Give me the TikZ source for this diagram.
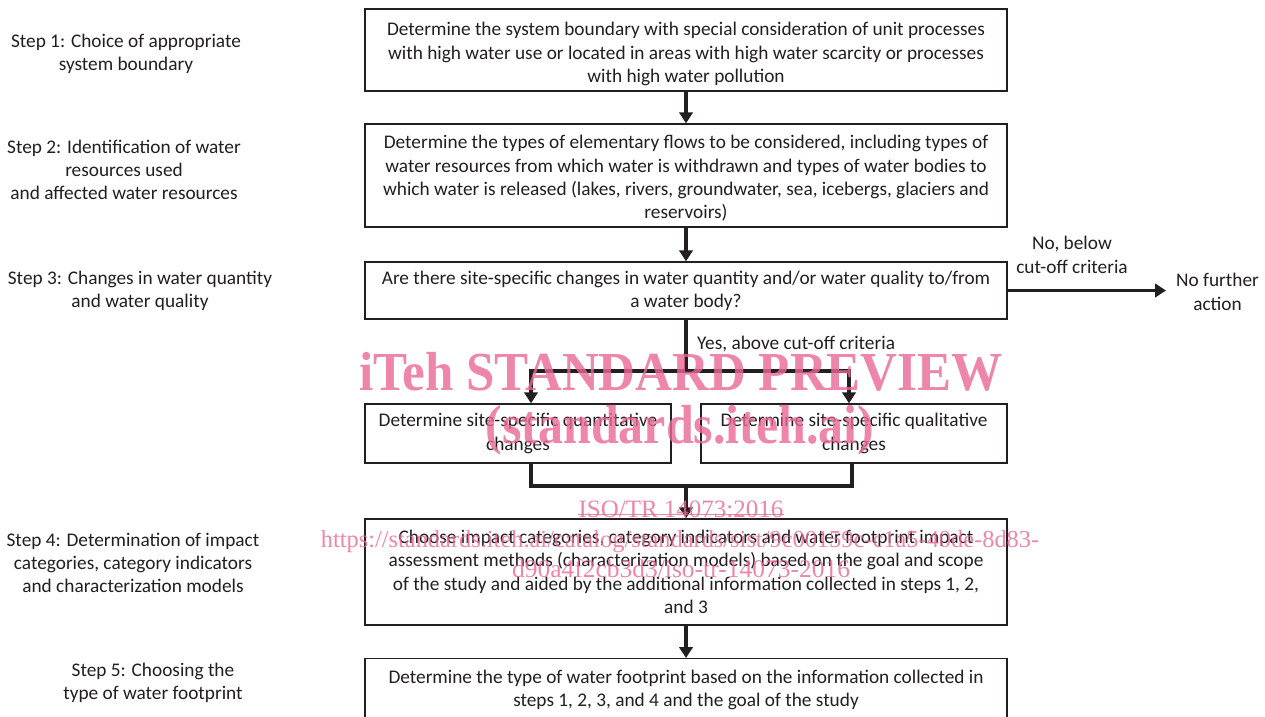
\documentclass[tikz,border=0pt]{standalone}
\usepackage{fontspec}
\setmainfont{Carlito}
\newfontfamily\wmfont{Liberation Serif}
\usetikzlibrary{arrows.meta}
\definecolor{ink}{RGB}{35,31,32}
\definecolor{wmpink}{RGB}{234,104,150}
\begin{document}
\begin{tikzpicture}[x=1pt,y=-1pt,
  every node/.style={font=\fontsize{19.3}{23.3}\selectfont, text=ink},
  box/.style={draw=ink, line width=1.4pt, align=center, inner sep=0pt},
  wide/.style={box, minimum width=642pt},
  half/.style={box, minimum width=306pt, minimum height=59pt},
  lbl/.style={align=center, inner sep=0pt},
  flow/.style={draw=ink, line width=3.6pt},
  arr/.style={flow, -{Triangle[width=13.5pt,length=11pt]}},
  wm/.style={text=wmpink, opacity=0.8, inner sep=0pt},
]
\clip (0,0) rectangle (1265,716);
\useasboundingbox (0,0) rectangle (1265,716);
\fill[white] (0,0) rectangle (1265,716);

% left step labels
\node[lbl] (s1) at (126,54) {Step 1: Choice of appropriate\\system boundary};
\node[lbl] (s2) at (124,170) {Step 2: Identification of water\\resources used\\and affected water resources};
\node[lbl] (s3) at (140,291) {Step 3: Changes in water quantity\\and water quality};
\node[lbl] (s4) at (133,563) {Step 4: Determination of impact\\categories, category indicators\\and characterization models};
\node[lbl] (s5) at (153,683) {Step 5: Choosing the\\type of water footprint};

% boxes
\node[wide, minimum height=82pt] (b1) at (686,50) {};
\node[lbl] (t1) at (686,54)
 {Determine the system boundary with special consideration of unit processes\\
  with high water use or located in areas with high water scarcity or processes\\
  with high water pollution};
\node[wide, minimum height=103pt] (b2) at (686,175.5) {};
\node[lbl] (t2) at (686,178.5)
 {Determine the types of elementary flows to be considered, including types of\\
  water resources from which water is withdrawn and types of water bodies to\\
  which water is released (lakes, rivers, groundwater, sea, icebergs, glaciers and\\
  reservoirs)};
\node[wide, minimum height=57pt] (b3) at (686,290.5)
 {Are there site-specific changes in water quantity and/or water quality to/from\\
  a water body?};
\node[half] (b4a) at (518,433.5) {Determine site-specific quantitative\\changes};
\node[half] (b4b) at (854,433.5) {Determine site-specific qualitative\\changes};
\node[wide, minimum height=106pt] (b5) at (686,572)
 {Choose impact categories, category indicators and water footprint impact\\
  assessment methods (characterization models) based on the goal and scope\\
  of the study and aided by the additional information collected in steps 1, 2,\\
  and 3};
\node[wide, minimum height=62pt, anchor=north] (b6) at (686,658)
 {Determine the type of water footprint based on the information collected in\\
  steps 1, 2, 3, and 4 and the goal of the study};

% side labels
\node[lbl] (nob) at (1072,255) {No, below\\cut-off criteria};
\node[lbl, anchor=west] (noact) at (1176,292) {No further\\action};
\node[lbl, anchor=west] (yes) at (697,344) {Yes, above cut-off criteria};

% connectors
\draw[arr] (b1.south) -- (b2.north);
\draw[arr] (b2.south) -- (b3.north);
\draw[arr] (b3.east) -- ([xshift=-10pt]b3.east -| noact.west);
\coordinate (split) at (686,371);
\draw[flow] (b3.south) -- (split);
\draw[arr] ([xshift=1.8pt]split) -| ([xshift=13pt]b4a.north);
\draw[arr] ([xshift=-1.8pt]split) -| ([xshift=-5pt]b4b.north);
\coordinate (merge) at (686,486);
\draw[flow] ([xshift=13pt]b4a.south) |- ([xshift=1.8pt]merge);
\draw[flow] ([xshift=-2pt]b4b.south) |- ([xshift=-1.8pt]merge);
\draw[arr] (merge) -- (b5.north);
\draw[arr] (b5.south) -- (b6.north);

% watermark
\node[wm, font=\wmfont\bfseries\fontsize{50}{50}\selectfont, xscale=1.02, yscale=1.1] (w1) at (681,372) {iTeh STANDARD PREVIEW};
\node[wm, font=\wmfont\bfseries\fontsize{50}{50}\selectfont, yscale=1.1] (w2) at (680,430) {(standards.iteh.ai)};
\node[wm, font=\wmfont\fontsize{25}{25}\selectfont] (w3) at (681,509) {ISO/TR 14073:2016};
\draw[wmpink, opacity=0.8, line width=1pt] ([yshift=3pt]w3.south west) -- ([yshift=3pt]w3.south east);
\node[wm, font=\wmfont\fontsize{24.4}{25}\selectfont] (w4) at (680,542) {https://standards.iteh.ai/catalog/standards/sist/9c00159c-c1a5-40de-8d83-};
\node[wm, font=\wmfont\fontsize{25.5}{25}\selectfont] (w5) at (681,569) {d90a4f2cb3d3/iso-tr-14073-2016};
\end{tikzpicture}
\end{document}
